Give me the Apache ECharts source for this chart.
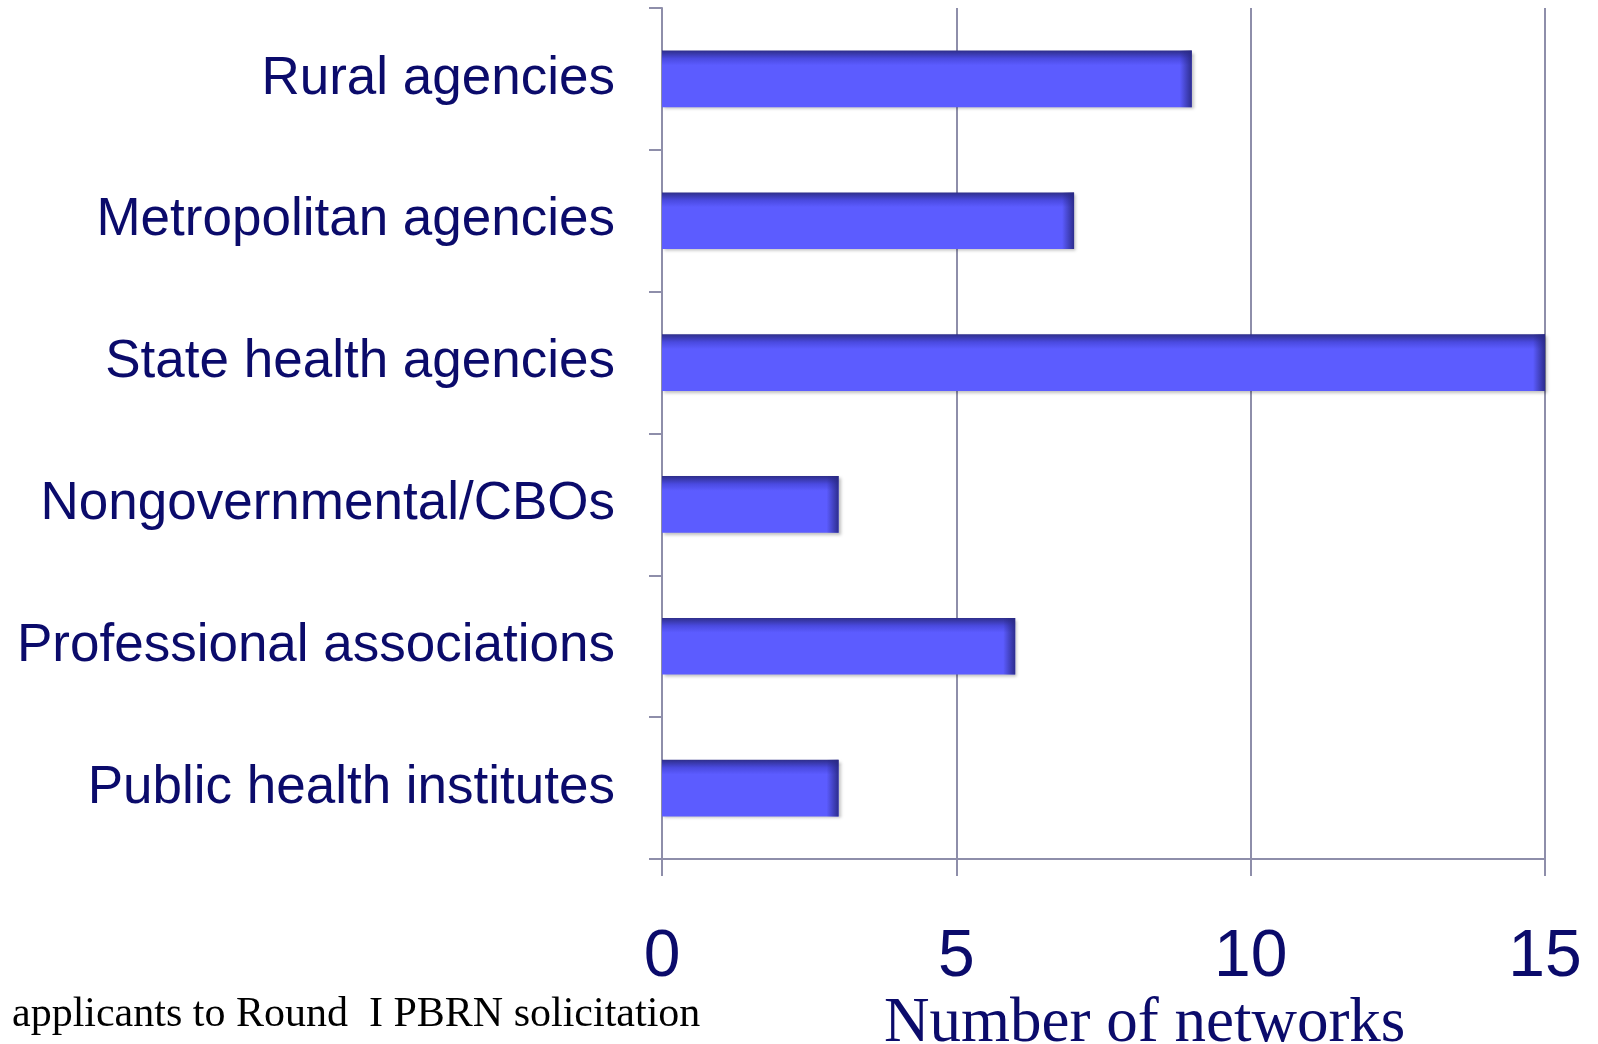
<!DOCTYPE html>
<html>
<head>
<meta charset="utf-8">
<script src="https://cdn.jsdelivr.net/npm/echarts@6/dist/echarts.min.js"></script>
<style>
  html, body { margin: 0; padding: 0; background: #fff; }
  #main { width: 1598px; height: 1044px; }
</style>
</head>
<body>
<div id="main"></div>
<script>
// categories, top to bottom
var categories = [
  'Rural agencies',
  'Metropolitan agencies',
  'State health agencies',
  'Nongovernmental/CBOs',
  'Professional associations',
  'Public health institutes'
];
var networks = [9, 7, 15, 3, 6, 3];
var xTicks = [0, 5, 10, 15];

var navy = '#0b0b6b';
var lineColor = '#8e8eaa';

var gridLeft = 662, gridRight = 53;
var plotWidth = 1598 - gridLeft - gridRight;
var xMax = xTicks[xTicks.length - 1];

// dark shade on the right end of each bar (3D look of the original)
function endShade(params) {
  var w = params.value / xMax * plotWidth;
  var start = Math.max(0, 1 - 12 / w);
  return new echarts.graphic.LinearGradient(0, 0, 1, 0, [
    { offset: 0, color: 'rgba(40,40,130,0)' },
    { offset: start, color: 'rgba(40,40,130,0)' },
    { offset: 1, color: 'rgba(40,40,130,0.9)' }
  ]);
}

var chart = echarts.init(document.getElementById('main'));

var option = {
  backgroundColor: '#ffffff',
  animation: false,
  grid: {
    left: gridLeft,
    right: gridRight,
    top: 8,
    bottom: 185,
    containLabel: false
  },
  xAxis: {
    type: 'value',
    min: xTicks[0],
    max: xMax,
    interval: 5,
    axisLine: { show: true, lineStyle: { color: lineColor, width: 2 } },
    axisTick: { show: true, length: 17, lineStyle: { color: lineColor, width: 2 } },
    splitLine: { show: true, lineStyle: { color: lineColor, width: 2 } },
    axisLabel: {
      margin: 66,
      color: navy,
      fontFamily: 'Liberation Sans',
      fontSize: 66
    }
  },
  yAxis: {
    type: 'category',
    data: categories,
    inverse: true,
    axisLine: { show: true, lineStyle: { color: lineColor, width: 2 } },
    axisTick: { show: true, length: 13, lineStyle: { color: lineColor, width: 2 } },
    axisLabel: {
      margin: 47,
      color: navy,
      fontFamily: 'Liberation Sans',
      fontSize: 53,
      padding: [12, 0, 0, 0]
    }
  },
  series: [
    {
      type: 'bar',
      data: networks,
      barCategoryGap: '60%',
      itemStyle: {
        color: new echarts.graphic.LinearGradient(0, 0, 0, 1, [
          { offset: 0, color: '#2e2e8a' },
          { offset: 0.14, color: '#4a4ae0' },
          { offset: 0.26, color: '#5c5cff' },
          { offset: 1, color: '#5c5cff' }
        ]),
        shadowColor: 'rgba(0,0,0,0.25)',
        shadowBlur: 3,
        shadowOffsetX: 2,
        shadowOffsetY: 2
      }
    },
    {
      type: 'bar',
      data: networks,
      barGap: '-100%',
      barCategoryGap: '60%',
      silent: true,
      itemStyle: { color: endShade }
    }
  ],
  graphic: [
    {
      type: 'text',
      left: 884,
      top: 993,
      style: {
        text: 'Number of networks',
        fill: navy,
        font: '63px "Liberation Serif"'
      }
    },
    {
      type: 'text',
      left: 12,
      top: 994,
      style: {
        text: 'applicants to Round  I PBRN solicitation',
        fill: '#000000',
        font: '42px "Liberation Serif"'
      }
    }
  ]
};

chart.setOption(option);
</script>
</body>
</html>
